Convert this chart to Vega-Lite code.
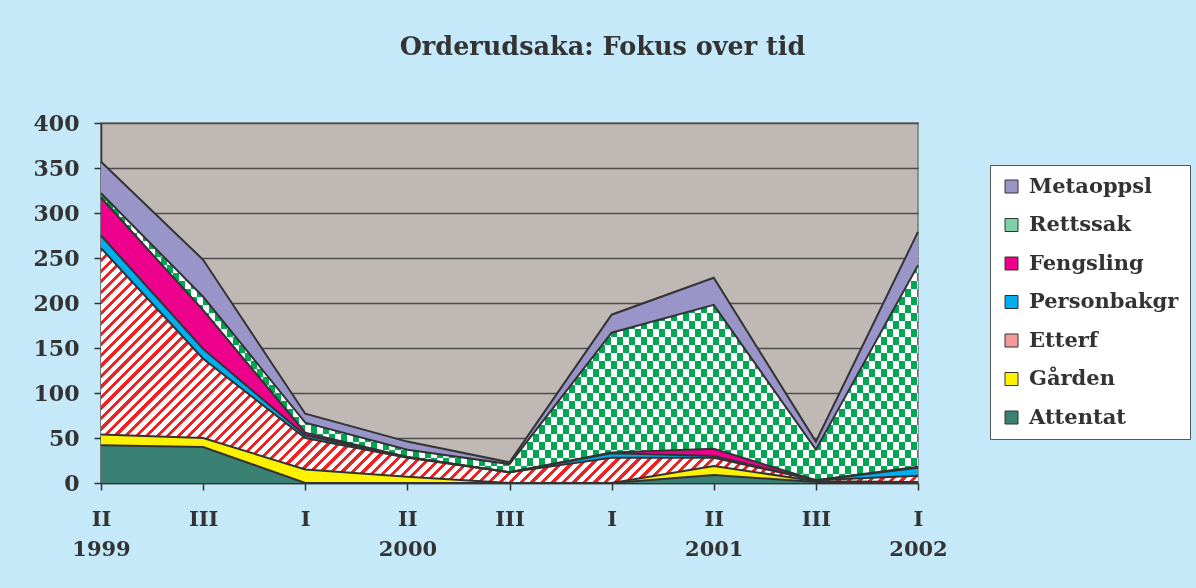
{
"$schema":"https://vega.github.io/schema/vega-lite/v6.json",
"width":817,"height":360,
"autosize":{"type":"none"},
"padding":{"left":101,"top":123,"right":278,"bottom":105},
"background":"#C5E9F9",
"title":{"text":"Orderudsaka: Fokus over tid","font":"DejaVu Serif","fontSize":25.5,"fontWeight":"bold","color":"#333333","anchor":"middle","frame":"group","dx":93,"offset":32,"baseline":"alphabetic"},
"config":{
"view":{"fill":"#C0B8B5","stroke":"#777777","strokeWidth":1.5},
"axis":{"labelFont":"DejaVu Serif","labelFontWeight":"bold","labelColor":"#333333","domainColor":"#333333","tickColor":"#333333","domainWidth":1.5,"tickWidth":1.5,"tickSize":7,"title":null},
"legend":{"orient":"none","legendX":889,"legendY":42,"fillColor":"#FFFFFF","strokeColor":"#555555","padding":11,"labelFont":"DejaVu Serif","labelFontWeight":"bold","labelFontSize":21,"labelColor":"#333333","symbolType":"square","symbolSize":169,"symbolOpacity":1,"labelOffset":7,"rowPadding":16.5}
},
"datasets":{
"main":[
{"period":"II 1999","series":"Attentat","value":42},{"period":"III 1999","series":"Attentat","value":40},{"period":"I 2000","series":"Attentat","value":0},{"period":"II 2000","series":"Attentat","value":0},{"period":"III 2000","series":"Attentat","value":0},{"period":"I 2001","series":"Attentat","value":0},{"period":"II 2001","series":"Attentat","value":9},{"period":"III 2001","series":"Attentat","value":1},{"period":"I 2002","series":"Attentat","value":0},
{"period":"II 1999","series":"Gården","value":12},{"period":"III 1999","series":"Gården","value":10},{"period":"I 2000","series":"Gården","value":15},{"period":"II 2000","series":"Gården","value":7},{"period":"III 2000","series":"Gården","value":0},{"period":"I 2001","series":"Gården","value":0},{"period":"II 2001","series":"Gården","value":10},{"period":"III 2001","series":"Gården","value":1},{"period":"I 2002","series":"Gården","value":1},
{"period":"II 1999","series":"Etterf","value":207},{"period":"III 1999","series":"Etterf","value":88},{"period":"I 2000","series":"Etterf","value":35},{"period":"II 2000","series":"Etterf","value":21},{"period":"III 2000","series":"Etterf","value":12},{"period":"I 2001","series":"Etterf","value":28},{"period":"II 2001","series":"Etterf","value":9},{"period":"III 2001","series":"Etterf","value":1},{"period":"I 2002","series":"Etterf","value":7},
{"period":"II 1999","series":"Personbakgr","value":14},{"period":"III 1999","series":"Personbakgr","value":11},{"period":"I 2000","series":"Personbakgr","value":3},{"period":"II 2000","series":"Personbakgr","value":1},{"period":"III 2000","series":"Personbakgr","value":0},{"period":"I 2001","series":"Personbakgr","value":5},{"period":"II 2001","series":"Personbakgr","value":2},{"period":"III 2001","series":"Personbakgr","value":0},{"period":"I 2002","series":"Personbakgr","value":9},
{"period":"II 1999","series":"Fengsling","value":42},{"period":"III 1999","series":"Fengsling","value":43},{"period":"I 2000","series":"Fengsling","value":3},{"period":"II 2000","series":"Fengsling","value":0},{"period":"III 2000","series":"Fengsling","value":0},{"period":"I 2001","series":"Fengsling","value":1},{"period":"II 2001","series":"Fengsling","value":8},{"period":"III 2001","series":"Fengsling","value":0},{"period":"I 2002","series":"Fengsling","value":1},
{"period":"II 1999","series":"Rettssak","value":5},{"period":"III 1999","series":"Rettssak","value":15},{"period":"I 2000","series":"Rettssak","value":11},{"period":"II 2000","series":"Rettssak","value":8},{"period":"III 2000","series":"Rettssak","value":9},{"period":"I 2001","series":"Rettssak","value":133},{"period":"II 2001","series":"Rettssak","value":160},{"period":"III 2001","series":"Rettssak","value":34},{"period":"I 2002","series":"Rettssak","value":224},
{"period":"II 1999","series":"Metaoppsl","value":35},{"period":"III 1999","series":"Metaoppsl","value":41},{"period":"I 2000","series":"Metaoppsl","value":10},{"period":"II 2000","series":"Metaoppsl","value":9},{"period":"III 2000","series":"Metaoppsl","value":2},{"period":"I 2001","series":"Metaoppsl","value":20},{"period":"II 2001","series":"Metaoppsl","value":30},{"period":"III 2001","series":"Metaoppsl","value":9},{"period":"I 2002","series":"Metaoppsl","value":37}
],
"seriesOrder":[
{"series":"Attentat","rank":1},{"series":"Gården","rank":2},{"series":"Etterf","rank":3},{"series":"Personbakgr","rank":4},{"series":"Fengsling","rank":5},{"series":"Rettssak","rank":6},{"series":"Metaoppsl","rank":7}
]
},
"data":{"name":"main"},
"transform":[
{"lookup":"series","from":{"data":{"name":"seriesOrder"},"key":"series","fields":["rank"]}},
{"stack":"value","groupby":["period"],"sort":[{"field":"rank","order":"ascending"}],"as":["y0","y1"]}
],
"encoding":{
"x":{"field":"period","type":"ordinal","scale":{"type":"point","padding":0,"domain":["II 1999","III 1999","I 2000","II 2000","III 2000","I 2001","II 2001","III 2001","I 2002"]},
"axis":{"labelAngle":0,"labelFontSize":21,"labelPadding":18,"labelLineHeight":30,"labelBaseline":"top","labelAlign":"center","labelOverlap":false,"grid":false,
"labelExpr":"[split(datum.value,' ')[0], indexof(['II 1999','II 2000','II 2001','I 2002'], datum.value) >= 0 ? split(datum.value,' ')[1] : '']"}},
"y":{"field":"y1","type":"quantitative","scale":{"domain":[0,400],"nice":false},
"axis":{"values":[0,50,100,150,200,250,300,350,400],"grid":true,"gridColor":"#4D4D4D","gridWidth":1.5,"labelFontSize":22,"labelPadding":15}}
},
"layer":[
{"mark":{"type":"area","opacity":1},
"encoding":{"y2":{"field":"y0"},
"color":{"field":"series","type":"nominal","scale":{"domain":["Metaoppsl","Rettssak","Fengsling","Personbakgr","Etterf","Gården","Attentat"],"range":["#9A95C9","#7FD2A8","#EC008C","#00AEEF","#F59A9C","#FFF200","#3A8073"]},
"legend":{"title":null,"encode":{"symbols":{"update":{"stroke":{"value":"#333333"},"strokeWidth":{"value":1}}}}}}}},
{"transform":[{"filter":"datum.series === 'Rettssak'"}],
"mark":{"type":"area","opacity":1,"fill":{"gradient":"linear","x1":0,"y1":0,"x2":1.4688,"y2":0,"stops":[
{"offset":0,"color":"#fff"},{"offset":0.005,"color":"#fff"},{"offset":0.005,"color":"#000"},{"offset":0.01,"color":"#000"},
{"offset":0.01,"color":"#fff"},{"offset":0.015,"color":"#fff"},{"offset":0.015,"color":"#000"},{"offset":0.02,"color":"#000"},
{"offset":0.02,"color":"#fff"},{"offset":0.025,"color":"#fff"},{"offset":0.025,"color":"#000"},{"offset":0.03,"color":"#000"},
{"offset":0.03,"color":"#fff"},{"offset":0.035,"color":"#fff"},{"offset":0.035,"color":"#000"},{"offset":0.04,"color":"#000"},
{"offset":0.04,"color":"#fff"},{"offset":0.045,"color":"#fff"},{"offset":0.045,"color":"#000"},{"offset":0.05,"color":"#000"},
{"offset":0.05,"color":"#fff"},{"offset":0.055,"color":"#fff"},{"offset":0.055,"color":"#000"},{"offset":0.06,"color":"#000"},
{"offset":0.06,"color":"#fff"},{"offset":0.065,"color":"#fff"},{"offset":0.065,"color":"#000"},{"offset":0.07,"color":"#000"},
{"offset":0.07,"color":"#fff"},{"offset":0.075,"color":"#fff"},{"offset":0.075,"color":"#000"},{"offset":0.08,"color":"#000"},
{"offset":0.08,"color":"#fff"},{"offset":0.085,"color":"#fff"},{"offset":0.085,"color":"#000"},{"offset":0.09,"color":"#000"},
{"offset":0.09,"color":"#fff"},{"offset":0.095,"color":"#fff"},{"offset":0.095,"color":"#000"},{"offset":0.1,"color":"#000"},
{"offset":0.1,"color":"#fff"},{"offset":0.105,"color":"#fff"},{"offset":0.105,"color":"#000"},{"offset":0.11,"color":"#000"},
{"offset":0.11,"color":"#fff"},{"offset":0.115,"color":"#fff"},{"offset":0.115,"color":"#000"},{"offset":0.12,"color":"#000"},
{"offset":0.12,"color":"#fff"},{"offset":0.125,"color":"#fff"},{"offset":0.125,"color":"#000"},{"offset":0.13,"color":"#000"},
{"offset":0.13,"color":"#fff"},{"offset":0.135,"color":"#fff"},{"offset":0.135,"color":"#000"},{"offset":0.14,"color":"#000"},
{"offset":0.14,"color":"#fff"},{"offset":0.145,"color":"#fff"},{"offset":0.145,"color":"#000"},{"offset":0.15,"color":"#000"},
{"offset":0.15,"color":"#fff"},{"offset":0.155,"color":"#fff"},{"offset":0.155,"color":"#000"},{"offset":0.16,"color":"#000"},
{"offset":0.16,"color":"#fff"},{"offset":0.165,"color":"#fff"},{"offset":0.165,"color":"#000"},{"offset":0.17,"color":"#000"},
{"offset":0.17,"color":"#fff"},{"offset":0.175,"color":"#fff"},{"offset":0.175,"color":"#000"},{"offset":0.18,"color":"#000"},
{"offset":0.18,"color":"#fff"},{"offset":0.185,"color":"#fff"},{"offset":0.185,"color":"#000"},{"offset":0.19,"color":"#000"},
{"offset":0.19,"color":"#fff"},{"offset":0.195,"color":"#fff"},{"offset":0.195,"color":"#000"},{"offset":0.2,"color":"#000"},
{"offset":0.2,"color":"#fff"},{"offset":0.205,"color":"#fff"},{"offset":0.205,"color":"#000"},{"offset":0.21,"color":"#000"},
{"offset":0.21,"color":"#fff"},{"offset":0.215,"color":"#fff"},{"offset":0.215,"color":"#000"},{"offset":0.22,"color":"#000"},
{"offset":0.22,"color":"#fff"},{"offset":0.225,"color":"#fff"},{"offset":0.225,"color":"#000"},{"offset":0.23,"color":"#000"},
{"offset":0.23,"color":"#fff"},{"offset":0.235,"color":"#fff"},{"offset":0.235,"color":"#000"},{"offset":0.24,"color":"#000"},
{"offset":0.24,"color":"#fff"},{"offset":0.245,"color":"#fff"},{"offset":0.245,"color":"#000"},{"offset":0.25,"color":"#000"},
{"offset":0.25,"color":"#fff"},{"offset":0.255,"color":"#fff"},{"offset":0.255,"color":"#000"},{"offset":0.26,"color":"#000"},
{"offset":0.26,"color":"#fff"},{"offset":0.265,"color":"#fff"},{"offset":0.265,"color":"#000"},{"offset":0.27,"color":"#000"},
{"offset":0.27,"color":"#fff"},{"offset":0.275,"color":"#fff"},{"offset":0.275,"color":"#000"},{"offset":0.28,"color":"#000"},
{"offset":0.28,"color":"#fff"},{"offset":0.285,"color":"#fff"},{"offset":0.285,"color":"#000"},{"offset":0.29,"color":"#000"},
{"offset":0.29,"color":"#fff"},{"offset":0.295,"color":"#fff"},{"offset":0.295,"color":"#000"},{"offset":0.3,"color":"#000"},
{"offset":0.3,"color":"#fff"},{"offset":0.305,"color":"#fff"},{"offset":0.305,"color":"#000"},{"offset":0.31,"color":"#000"},
{"offset":0.31,"color":"#fff"},{"offset":0.315,"color":"#fff"},{"offset":0.315,"color":"#000"},{"offset":0.32,"color":"#000"},
{"offset":0.32,"color":"#fff"},{"offset":0.325,"color":"#fff"},{"offset":0.325,"color":"#000"},{"offset":0.33,"color":"#000"},
{"offset":0.33,"color":"#fff"},{"offset":0.335,"color":"#fff"},{"offset":0.335,"color":"#000"},{"offset":0.34,"color":"#000"},
{"offset":0.34,"color":"#fff"},{"offset":0.345,"color":"#fff"},{"offset":0.345,"color":"#000"},{"offset":0.35,"color":"#000"},
{"offset":0.35,"color":"#fff"},{"offset":0.355,"color":"#fff"},{"offset":0.355,"color":"#000"},{"offset":0.36,"color":"#000"},
{"offset":0.36,"color":"#fff"},{"offset":0.365,"color":"#fff"},{"offset":0.365,"color":"#000"},{"offset":0.37,"color":"#000"},
{"offset":0.37,"color":"#fff"},{"offset":0.375,"color":"#fff"},{"offset":0.375,"color":"#000"},{"offset":0.38,"color":"#000"},
{"offset":0.38,"color":"#fff"},{"offset":0.385,"color":"#fff"},{"offset":0.385,"color":"#000"},{"offset":0.39,"color":"#000"},
{"offset":0.39,"color":"#fff"},{"offset":0.395,"color":"#fff"},{"offset":0.395,"color":"#000"},{"offset":0.4,"color":"#000"},
{"offset":0.4,"color":"#fff"},{"offset":0.405,"color":"#fff"},{"offset":0.405,"color":"#000"},{"offset":0.41,"color":"#000"},
{"offset":0.41,"color":"#fff"},{"offset":0.415,"color":"#fff"},{"offset":0.415,"color":"#000"},{"offset":0.42,"color":"#000"},
{"offset":0.42,"color":"#fff"},{"offset":0.425,"color":"#fff"},{"offset":0.425,"color":"#000"},{"offset":0.43,"color":"#000"},
{"offset":0.43,"color":"#fff"},{"offset":0.435,"color":"#fff"},{"offset":0.435,"color":"#000"},{"offset":0.44,"color":"#000"},
{"offset":0.44,"color":"#fff"},{"offset":0.445,"color":"#fff"},{"offset":0.445,"color":"#000"},{"offset":0.45,"color":"#000"},
{"offset":0.45,"color":"#fff"},{"offset":0.455,"color":"#fff"},{"offset":0.455,"color":"#000"},{"offset":0.46,"color":"#000"},
{"offset":0.46,"color":"#fff"},{"offset":0.465,"color":"#fff"},{"offset":0.465,"color":"#000"},{"offset":0.47,"color":"#000"},
{"offset":0.47,"color":"#fff"},{"offset":0.475,"color":"#fff"},{"offset":0.475,"color":"#000"},{"offset":0.48,"color":"#000"},
{"offset":0.48,"color":"#fff"},{"offset":0.485,"color":"#fff"},{"offset":0.485,"color":"#000"},{"offset":0.49,"color":"#000"},
{"offset":0.49,"color":"#fff"},{"offset":0.495,"color":"#fff"},{"offset":0.495,"color":"#000"},{"offset":0.5,"color":"#000"},
{"offset":0.5,"color":"#fff"},{"offset":0.505,"color":"#fff"},{"offset":0.505,"color":"#000"},{"offset":0.51,"color":"#000"},
{"offset":0.51,"color":"#fff"},{"offset":0.515,"color":"#fff"},{"offset":0.515,"color":"#000"},{"offset":0.52,"color":"#000"},
{"offset":0.52,"color":"#fff"},{"offset":0.525,"color":"#fff"},{"offset":0.525,"color":"#000"},{"offset":0.53,"color":"#000"},
{"offset":0.53,"color":"#fff"},{"offset":0.535,"color":"#fff"},{"offset":0.535,"color":"#000"},{"offset":0.54,"color":"#000"},
{"offset":0.54,"color":"#fff"},{"offset":0.545,"color":"#fff"},{"offset":0.545,"color":"#000"},{"offset":0.55,"color":"#000"},
{"offset":0.55,"color":"#fff"},{"offset":0.555,"color":"#fff"},{"offset":0.555,"color":"#000"},{"offset":0.56,"color":"#000"},
{"offset":0.56,"color":"#fff"},{"offset":0.565,"color":"#fff"},{"offset":0.565,"color":"#000"},{"offset":0.57,"color":"#000"},
{"offset":0.57,"color":"#fff"},{"offset":0.575,"color":"#fff"},{"offset":0.575,"color":"#000"},{"offset":0.58,"color":"#000"},
{"offset":0.58,"color":"#fff"},{"offset":0.585,"color":"#fff"},{"offset":0.585,"color":"#000"},{"offset":0.59,"color":"#000"},
{"offset":0.59,"color":"#fff"},{"offset":0.595,"color":"#fff"},{"offset":0.595,"color":"#000"},{"offset":0.6,"color":"#000"},
{"offset":0.6,"color":"#fff"},{"offset":0.605,"color":"#fff"},{"offset":0.605,"color":"#000"},{"offset":0.61,"color":"#000"},
{"offset":0.61,"color":"#fff"},{"offset":0.615,"color":"#fff"},{"offset":0.615,"color":"#000"},{"offset":0.62,"color":"#000"},
{"offset":0.62,"color":"#fff"},{"offset":0.625,"color":"#fff"},{"offset":0.625,"color":"#000"},{"offset":0.63,"color":"#000"},
{"offset":0.63,"color":"#fff"},{"offset":0.635,"color":"#fff"},{"offset":0.635,"color":"#000"},{"offset":0.64,"color":"#000"},
{"offset":0.64,"color":"#fff"},{"offset":0.645,"color":"#fff"},{"offset":0.645,"color":"#000"},{"offset":0.65,"color":"#000"},
{"offset":0.65,"color":"#fff"},{"offset":0.655,"color":"#fff"},{"offset":0.655,"color":"#000"},{"offset":0.66,"color":"#000"},
{"offset":0.66,"color":"#fff"},{"offset":0.665,"color":"#fff"},{"offset":0.665,"color":"#000"},{"offset":0.67,"color":"#000"},
{"offset":0.67,"color":"#fff"},{"offset":0.675,"color":"#fff"},{"offset":0.675,"color":"#000"},{"offset":0.68,"color":"#000"},
{"offset":0.68,"color":"#fff"},{"offset":0.685,"color":"#fff"}
]}},
"encoding":{"y2":{"field":"y0"}}},
{"transform":[{"filter":"datum.series === 'Rettssak'"}],
"mark":{"type":"area","opacity":1,"blend":"difference","fill":{"gradient":"linear","x1":0,"y1":0,"x2":0,"y2":1.116,"stops":[
{"offset":0,"color":"#fff"},{"offset":0.025,"color":"#fff"},{"offset":0.025,"color":"#000"},{"offset":0.05,"color":"#000"},
{"offset":0.05,"color":"#fff"},{"offset":0.075,"color":"#fff"},{"offset":0.075,"color":"#000"},{"offset":0.1,"color":"#000"},
{"offset":0.1,"color":"#fff"},{"offset":0.125,"color":"#fff"},{"offset":0.125,"color":"#000"},{"offset":0.15,"color":"#000"},
{"offset":0.15,"color":"#fff"},{"offset":0.175,"color":"#fff"},{"offset":0.175,"color":"#000"},{"offset":0.2,"color":"#000"},
{"offset":0.2,"color":"#fff"},{"offset":0.225,"color":"#fff"},{"offset":0.225,"color":"#000"},{"offset":0.25,"color":"#000"},
{"offset":0.25,"color":"#fff"},{"offset":0.275,"color":"#fff"},{"offset":0.275,"color":"#000"},{"offset":0.3,"color":"#000"},
{"offset":0.3,"color":"#fff"},{"offset":0.325,"color":"#fff"},{"offset":0.325,"color":"#000"},{"offset":0.35,"color":"#000"},
{"offset":0.35,"color":"#fff"},{"offset":0.375,"color":"#fff"},{"offset":0.375,"color":"#000"},{"offset":0.4,"color":"#000"},
{"offset":0.4,"color":"#fff"},{"offset":0.425,"color":"#fff"},{"offset":0.425,"color":"#000"},{"offset":0.45,"color":"#000"},
{"offset":0.45,"color":"#fff"},{"offset":0.475,"color":"#fff"},{"offset":0.475,"color":"#000"},{"offset":0.5,"color":"#000"},
{"offset":0.5,"color":"#fff"},{"offset":0.525,"color":"#fff"},{"offset":0.525,"color":"#000"},{"offset":0.55,"color":"#000"},
{"offset":0.55,"color":"#fff"},{"offset":0.575,"color":"#fff"},{"offset":0.575,"color":"#000"},{"offset":0.6,"color":"#000"},
{"offset":0.6,"color":"#fff"},{"offset":0.625,"color":"#fff"},{"offset":0.625,"color":"#000"},{"offset":0.65,"color":"#000"},
{"offset":0.65,"color":"#fff"},{"offset":0.675,"color":"#fff"},{"offset":0.675,"color":"#000"},{"offset":0.7,"color":"#000"},
{"offset":0.7,"color":"#fff"},{"offset":0.725,"color":"#fff"},{"offset":0.725,"color":"#000"},{"offset":0.75,"color":"#000"},
{"offset":0.75,"color":"#fff"},{"offset":0.775,"color":"#fff"},{"offset":0.775,"color":"#000"},{"offset":0.8,"color":"#000"},
{"offset":0.8,"color":"#fff"},{"offset":0.825,"color":"#fff"},{"offset":0.825,"color":"#000"},{"offset":0.85,"color":"#000"},
{"offset":0.85,"color":"#fff"},{"offset":0.875,"color":"#fff"},{"offset":0.875,"color":"#000"},{"offset":0.9,"color":"#000"},
{"offset":0.9,"color":"#fff"},{"offset":0.925,"color":"#fff"}
]}},
"encoding":{"y2":{"field":"y0"}}},
{"transform":[{"filter":"datum.series === 'Rettssak'"}],
"mark":{"type":"area","opacity":1,"blend":"screen","fill":"#00A651"},
"encoding":{"y2":{"field":"y0"}}},
{"transform":[{"filter":"datum.series === 'Etterf'"}],
"mark":{"type":"area","opacity":1,"fill":{"gradient":"linear","x1":0,"y1":0,"x2":1.1892,"y2":0.3419,"stops":[
{"offset":0,"color":"#e22"},{"offset":0.004,"color":"#e22"},{"offset":0.004,"color":"#fff"},{"offset":0.01,"color":"#fff"},
{"offset":0.01,"color":"#e22"},{"offset":0.014,"color":"#e22"},{"offset":0.014,"color":"#fff"},{"offset":0.02,"color":"#fff"},
{"offset":0.02,"color":"#e22"},{"offset":0.024,"color":"#e22"},{"offset":0.024,"color":"#fff"},{"offset":0.03,"color":"#fff"},
{"offset":0.03,"color":"#e22"},{"offset":0.034,"color":"#e22"},{"offset":0.034,"color":"#fff"},{"offset":0.04,"color":"#fff"},
{"offset":0.04,"color":"#e22"},{"offset":0.044,"color":"#e22"},{"offset":0.044,"color":"#fff"},{"offset":0.05,"color":"#fff"},
{"offset":0.05,"color":"#e22"},{"offset":0.054,"color":"#e22"},{"offset":0.054,"color":"#fff"},{"offset":0.06,"color":"#fff"},
{"offset":0.06,"color":"#e22"},{"offset":0.064,"color":"#e22"},{"offset":0.064,"color":"#fff"},{"offset":0.07,"color":"#fff"},
{"offset":0.07,"color":"#e22"},{"offset":0.074,"color":"#e22"},{"offset":0.074,"color":"#fff"},{"offset":0.08,"color":"#fff"},
{"offset":0.08,"color":"#e22"},{"offset":0.084,"color":"#e22"},{"offset":0.084,"color":"#fff"},{"offset":0.09,"color":"#fff"},
{"offset":0.09,"color":"#e22"},{"offset":0.094,"color":"#e22"},{"offset":0.094,"color":"#fff"},{"offset":0.1,"color":"#fff"},
{"offset":0.1,"color":"#e22"},{"offset":0.104,"color":"#e22"},{"offset":0.104,"color":"#fff"},{"offset":0.11,"color":"#fff"},
{"offset":0.11,"color":"#e22"},{"offset":0.114,"color":"#e22"},{"offset":0.114,"color":"#fff"},{"offset":0.12,"color":"#fff"},
{"offset":0.12,"color":"#e22"},{"offset":0.124,"color":"#e22"},{"offset":0.124,"color":"#fff"},{"offset":0.13,"color":"#fff"},
{"offset":0.13,"color":"#e22"},{"offset":0.134,"color":"#e22"},{"offset":0.134,"color":"#fff"},{"offset":0.14,"color":"#fff"},
{"offset":0.14,"color":"#e22"},{"offset":0.144,"color":"#e22"},{"offset":0.144,"color":"#fff"},{"offset":0.15,"color":"#fff"},
{"offset":0.15,"color":"#e22"},{"offset":0.154,"color":"#e22"},{"offset":0.154,"color":"#fff"},{"offset":0.16,"color":"#fff"},
{"offset":0.16,"color":"#e22"},{"offset":0.164,"color":"#e22"},{"offset":0.164,"color":"#fff"},{"offset":0.17,"color":"#fff"},
{"offset":0.17,"color":"#e22"},{"offset":0.174,"color":"#e22"},{"offset":0.174,"color":"#fff"},{"offset":0.18,"color":"#fff"},
{"offset":0.18,"color":"#e22"},{"offset":0.184,"color":"#e22"},{"offset":0.184,"color":"#fff"},{"offset":0.19,"color":"#fff"},
{"offset":0.19,"color":"#e22"},{"offset":0.194,"color":"#e22"},{"offset":0.194,"color":"#fff"},{"offset":0.2,"color":"#fff"},
{"offset":0.2,"color":"#e22"},{"offset":0.204,"color":"#e22"},{"offset":0.204,"color":"#fff"},{"offset":0.21,"color":"#fff"},
{"offset":0.21,"color":"#e22"},{"offset":0.214,"color":"#e22"},{"offset":0.214,"color":"#fff"},{"offset":0.22,"color":"#fff"},
{"offset":0.22,"color":"#e22"},{"offset":0.224,"color":"#e22"},{"offset":0.224,"color":"#fff"},{"offset":0.23,"color":"#fff"},
{"offset":0.23,"color":"#e22"},{"offset":0.234,"color":"#e22"},{"offset":0.234,"color":"#fff"},{"offset":0.24,"color":"#fff"},
{"offset":0.24,"color":"#e22"},{"offset":0.244,"color":"#e22"},{"offset":0.244,"color":"#fff"},{"offset":0.25,"color":"#fff"},
{"offset":0.25,"color":"#e22"},{"offset":0.254,"color":"#e22"},{"offset":0.254,"color":"#fff"},{"offset":0.26,"color":"#fff"},
{"offset":0.26,"color":"#e22"},{"offset":0.264,"color":"#e22"},{"offset":0.264,"color":"#fff"},{"offset":0.27,"color":"#fff"},
{"offset":0.27,"color":"#e22"},{"offset":0.274,"color":"#e22"},{"offset":0.274,"color":"#fff"},{"offset":0.28,"color":"#fff"},
{"offset":0.28,"color":"#e22"},{"offset":0.284,"color":"#e22"},{"offset":0.284,"color":"#fff"},{"offset":0.29,"color":"#fff"},
{"offset":0.29,"color":"#e22"},{"offset":0.294,"color":"#e22"},{"offset":0.294,"color":"#fff"},{"offset":0.3,"color":"#fff"},
{"offset":0.3,"color":"#e22"},{"offset":0.304,"color":"#e22"},{"offset":0.304,"color":"#fff"},{"offset":0.31,"color":"#fff"},
{"offset":0.31,"color":"#e22"},{"offset":0.314,"color":"#e22"},{"offset":0.314,"color":"#fff"},{"offset":0.32,"color":"#fff"},
{"offset":0.32,"color":"#e22"},{"offset":0.324,"color":"#e22"},{"offset":0.324,"color":"#fff"},{"offset":0.33,"color":"#fff"},
{"offset":0.33,"color":"#e22"},{"offset":0.334,"color":"#e22"},{"offset":0.334,"color":"#fff"},{"offset":0.34,"color":"#fff"},
{"offset":0.34,"color":"#e22"},{"offset":0.344,"color":"#e22"},{"offset":0.344,"color":"#fff"},{"offset":0.35,"color":"#fff"},
{"offset":0.35,"color":"#e22"},{"offset":0.354,"color":"#e22"},{"offset":0.354,"color":"#fff"},{"offset":0.36,"color":"#fff"},
{"offset":0.36,"color":"#e22"},{"offset":0.364,"color":"#e22"},{"offset":0.364,"color":"#fff"},{"offset":0.37,"color":"#fff"},
{"offset":0.37,"color":"#e22"},{"offset":0.374,"color":"#e22"},{"offset":0.374,"color":"#fff"},{"offset":0.38,"color":"#fff"},
{"offset":0.38,"color":"#e22"},{"offset":0.384,"color":"#e22"},{"offset":0.384,"color":"#fff"},{"offset":0.39,"color":"#fff"},
{"offset":0.39,"color":"#e22"},{"offset":0.394,"color":"#e22"},{"offset":0.394,"color":"#fff"},{"offset":0.4,"color":"#fff"},
{"offset":0.4,"color":"#e22"},{"offset":0.404,"color":"#e22"},{"offset":0.404,"color":"#fff"},{"offset":0.41,"color":"#fff"},
{"offset":0.41,"color":"#e22"},{"offset":0.414,"color":"#e22"},{"offset":0.414,"color":"#fff"},{"offset":0.42,"color":"#fff"},
{"offset":0.42,"color":"#e22"},{"offset":0.424,"color":"#e22"},{"offset":0.424,"color":"#fff"},{"offset":0.43,"color":"#fff"},
{"offset":0.43,"color":"#e22"},{"offset":0.434,"color":"#e22"},{"offset":0.434,"color":"#fff"},{"offset":0.44,"color":"#fff"},
{"offset":0.44,"color":"#e22"},{"offset":0.444,"color":"#e22"},{"offset":0.444,"color":"#fff"},{"offset":0.45,"color":"#fff"},
{"offset":0.45,"color":"#e22"},{"offset":0.454,"color":"#e22"},{"offset":0.454,"color":"#fff"},{"offset":0.46,"color":"#fff"},
{"offset":0.46,"color":"#e22"},{"offset":0.464,"color":"#e22"},{"offset":0.464,"color":"#fff"},{"offset":0.47,"color":"#fff"},
{"offset":0.47,"color":"#e22"},{"offset":0.474,"color":"#e22"},{"offset":0.474,"color":"#fff"},{"offset":0.48,"color":"#fff"},
{"offset":0.48,"color":"#e22"},{"offset":0.484,"color":"#e22"},{"offset":0.484,"color":"#fff"},{"offset":0.49,"color":"#fff"},
{"offset":0.49,"color":"#e22"},{"offset":0.494,"color":"#e22"},{"offset":0.494,"color":"#fff"},{"offset":0.5,"color":"#fff"},
{"offset":0.5,"color":"#e22"},{"offset":0.504,"color":"#e22"},{"offset":0.504,"color":"#fff"},{"offset":0.51,"color":"#fff"},
{"offset":0.51,"color":"#e22"},{"offset":0.514,"color":"#e22"},{"offset":0.514,"color":"#fff"},{"offset":0.52,"color":"#fff"},
{"offset":0.52,"color":"#e22"},{"offset":0.524,"color":"#e22"},{"offset":0.524,"color":"#fff"},{"offset":0.53,"color":"#fff"},
{"offset":0.53,"color":"#e22"},{"offset":0.534,"color":"#e22"},{"offset":0.534,"color":"#fff"},{"offset":0.54,"color":"#fff"},
{"offset":0.54,"color":"#e22"},{"offset":0.544,"color":"#e22"},{"offset":0.544,"color":"#fff"},{"offset":0.55,"color":"#fff"},
{"offset":0.55,"color":"#e22"},{"offset":0.554,"color":"#e22"},{"offset":0.554,"color":"#fff"},{"offset":0.56,"color":"#fff"},
{"offset":0.56,"color":"#e22"},{"offset":0.564,"color":"#e22"},{"offset":0.564,"color":"#fff"},{"offset":0.57,"color":"#fff"},
{"offset":0.57,"color":"#e22"},{"offset":0.574,"color":"#e22"},{"offset":0.574,"color":"#fff"},{"offset":0.58,"color":"#fff"},
{"offset":0.58,"color":"#e22"},{"offset":0.584,"color":"#e22"},{"offset":0.584,"color":"#fff"},{"offset":0.59,"color":"#fff"},
{"offset":0.59,"color":"#e22"},{"offset":0.594,"color":"#e22"},{"offset":0.594,"color":"#fff"},{"offset":0.6,"color":"#fff"},
{"offset":0.6,"color":"#e22"},{"offset":0.604,"color":"#e22"},{"offset":0.604,"color":"#fff"},{"offset":0.61,"color":"#fff"},
{"offset":0.61,"color":"#e22"},{"offset":0.614,"color":"#e22"},{"offset":0.614,"color":"#fff"},{"offset":0.62,"color":"#fff"},
{"offset":0.62,"color":"#e22"},{"offset":0.624,"color":"#e22"},{"offset":0.624,"color":"#fff"},{"offset":0.63,"color":"#fff"},
{"offset":0.63,"color":"#e22"},{"offset":0.634,"color":"#e22"},{"offset":0.634,"color":"#fff"},{"offset":0.64,"color":"#fff"},
{"offset":0.64,"color":"#e22"},{"offset":0.644,"color":"#e22"},{"offset":0.644,"color":"#fff"},{"offset":0.65,"color":"#fff"},
{"offset":0.65,"color":"#e22"},{"offset":0.654,"color":"#e22"},{"offset":0.654,"color":"#fff"},{"offset":0.66,"color":"#fff"},
{"offset":0.66,"color":"#e22"},{"offset":0.664,"color":"#e22"},{"offset":0.664,"color":"#fff"},{"offset":0.67,"color":"#fff"},
{"offset":0.67,"color":"#e22"},{"offset":0.674,"color":"#e22"},{"offset":0.674,"color":"#fff"},{"offset":0.68,"color":"#fff"},
{"offset":0.68,"color":"#e22"},{"offset":0.684,"color":"#e22"},{"offset":0.684,"color":"#fff"},{"offset":0.69,"color":"#fff"},
{"offset":0.69,"color":"#e22"},{"offset":0.694,"color":"#e22"},{"offset":0.694,"color":"#fff"},{"offset":0.7,"color":"#fff"},
{"offset":0.7,"color":"#e22"},{"offset":0.704,"color":"#e22"},{"offset":0.704,"color":"#fff"},{"offset":0.71,"color":"#fff"},
{"offset":0.71,"color":"#e22"},{"offset":0.714,"color":"#e22"},{"offset":0.714,"color":"#fff"},{"offset":0.72,"color":"#fff"},
{"offset":0.72,"color":"#e22"},{"offset":0.724,"color":"#e22"},{"offset":0.724,"color":"#fff"},{"offset":0.73,"color":"#fff"},
{"offset":0.73,"color":"#e22"},{"offset":0.734,"color":"#e22"},{"offset":0.734,"color":"#fff"},{"offset":0.74,"color":"#fff"},
{"offset":0.74,"color":"#e22"},{"offset":0.744,"color":"#e22"},{"offset":0.744,"color":"#fff"},{"offset":0.75,"color":"#fff"},
{"offset":0.75,"color":"#e22"},{"offset":0.754,"color":"#e22"},{"offset":0.754,"color":"#fff"},{"offset":0.76,"color":"#fff"},
{"offset":0.76,"color":"#e22"},{"offset":0.764,"color":"#e22"},{"offset":0.764,"color":"#fff"},{"offset":0.77,"color":"#fff"},
{"offset":0.77,"color":"#e22"},{"offset":0.774,"color":"#e22"},{"offset":0.774,"color":"#fff"},{"offset":0.78,"color":"#fff"},
{"offset":0.78,"color":"#e22"},{"offset":0.784,"color":"#e22"},{"offset":0.784,"color":"#fff"},{"offset":0.79,"color":"#fff"},
{"offset":0.79,"color":"#e22"},{"offset":0.794,"color":"#e22"},{"offset":0.794,"color":"#fff"},{"offset":0.8,"color":"#fff"},
{"offset":0.8,"color":"#e22"},{"offset":0.804,"color":"#e22"},{"offset":0.804,"color":"#fff"},{"offset":0.81,"color":"#fff"},
{"offset":0.81,"color":"#e22"},{"offset":0.814,"color":"#e22"},{"offset":0.814,"color":"#fff"},{"offset":0.82,"color":"#fff"},
{"offset":0.82,"color":"#e22"},{"offset":0.824,"color":"#e22"},{"offset":0.824,"color":"#fff"},{"offset":0.83,"color":"#fff"},
{"offset":0.83,"color":"#e22"},{"offset":0.834,"color":"#e22"},{"offset":0.834,"color":"#fff"},{"offset":0.84,"color":"#fff"},
{"offset":0.84,"color":"#e22"},{"offset":0.844,"color":"#e22"},{"offset":0.844,"color":"#fff"},{"offset":0.85,"color":"#fff"},
{"offset":0.85,"color":"#e22"},{"offset":0.854,"color":"#e22"},{"offset":0.854,"color":"#fff"},{"offset":0.86,"color":"#fff"},
{"offset":0.86,"color":"#e22"},{"offset":0.864,"color":"#e22"},{"offset":0.864,"color":"#fff"},{"offset":0.87,"color":"#fff"},
{"offset":0.87,"color":"#e22"},{"offset":0.874,"color":"#e22"},{"offset":0.874,"color":"#fff"},{"offset":0.88,"color":"#fff"},
{"offset":0.88,"color":"#e22"},{"offset":0.884,"color":"#e22"},{"offset":0.884,"color":"#fff"},{"offset":0.89,"color":"#fff"},
{"offset":0.89,"color":"#e22"},{"offset":0.894,"color":"#e22"},{"offset":0.894,"color":"#fff"},{"offset":0.9,"color":"#fff"},
{"offset":0.9,"color":"#e22"},{"offset":0.904,"color":"#e22"},{"offset":0.904,"color":"#fff"},{"offset":0.91,"color":"#fff"},
{"offset":0.91,"color":"#e22"},{"offset":0.914,"color":"#e22"},{"offset":0.914,"color":"#fff"},{"offset":0.92,"color":"#fff"},
{"offset":0.92,"color":"#e22"},{"offset":0.924,"color":"#e22"},{"offset":0.924,"color":"#fff"},{"offset":0.93,"color":"#fff"},
{"offset":0.93,"color":"#e22"},{"offset":0.934,"color":"#e22"},{"offset":0.934,"color":"#fff"},{"offset":0.94,"color":"#fff"},
{"offset":0.94,"color":"#e22"},{"offset":0.944,"color":"#e22"},{"offset":0.944,"color":"#fff"},{"offset":0.95,"color":"#fff"},
{"offset":0.95,"color":"#e22"},{"offset":0.954,"color":"#e22"},{"offset":0.954,"color":"#fff"},{"offset":0.96,"color":"#fff"},
{"offset":0.96,"color":"#e22"},{"offset":0.964,"color":"#e22"},{"offset":0.964,"color":"#fff"},{"offset":0.97,"color":"#fff"},
{"offset":0.97,"color":"#e22"},{"offset":0.974,"color":"#e22"},{"offset":0.974,"color":"#fff"},{"offset":0.98,"color":"#fff"},
{"offset":0.98,"color":"#e22"},{"offset":0.984,"color":"#e22"},{"offset":0.984,"color":"#fff"},{"offset":0.99,"color":"#fff"},
{"offset":0.99,"color":"#e22"},{"offset":0.994,"color":"#e22"},{"offset":0.994,"color":"#fff"},{"offset":1,"color":"#fff"}
]}},
"encoding":{"y2":{"field":"y0"}}},
{"mark":{"type":"line","stroke":"#333333","strokeWidth":2},
"encoding":{"detail":{"field":"series","type":"nominal"}}}
]
}
